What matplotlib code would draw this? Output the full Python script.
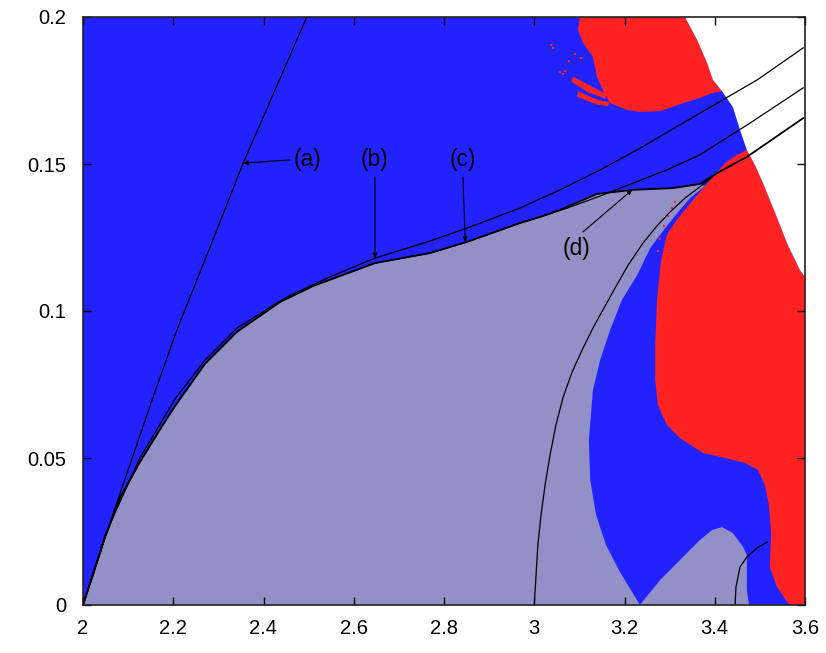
import matplotlib
matplotlib.use('Agg')
import matplotlib.pyplot as plt

plt.rcParams['font.family'] = ['Liberation Sans', 'DejaVu Sans']

# ---------------- axis values ----------------
x_ticks = [2.0, 2.2, 2.4, 2.6, 2.8, 3.0, 3.2, 3.4, 3.6]
x_tick_labels = ['2', '2.2', '2.4', '2.6', '2.8', '3', '3.2', '3.4', '3.6']
y_ticks = [0.0, 0.05, 0.1, 0.15, 0.2]
y_tick_labels = ['0', '0.05', '0.1', '0.15', '0.2']

# ---------------- curves ----------------
curve_a_x = [2.000, 2.049, 2.153, 2.208, 2.288, 2.355, 2.496]
curve_a_y = [0.0, 0.0231, 0.0697, 0.0935, 0.1242, 0.1503, 0.2]

curve_b_x = [2.000, 2.049, 2.126, 2.204, 2.270, 2.341, 2.452, 2.547, 2.647, 2.769,
             2.851, 2.968, 3.057, 3.146, 3.228, 3.367, 3.494, 3.596]
curve_b_y = [0.0, 0.0238, 0.0500, 0.0701, 0.0833, 0.0942, 0.1048, 0.1116, 0.1180, 0.1238,
             0.1282, 0.1350, 0.1412, 0.1480, 0.1548, 0.1673, 0.1786, 0.1895]

curve_d_x = [2.000, 2.022, 2.049, 2.082, 2.126, 2.171, 2.204, 2.270, 2.341, 2.437,
             2.510, 2.647, 2.769, 2.851, 2.968, 3.013, 3.057, 3.139, 3.217, 3.307,
             3.367, 3.405, 3.471, 3.596]
curve_d_y = [0.0, 0.0102, 0.0231, 0.0364, 0.0486, 0.0598, 0.0677, 0.0820, 0.0929, 0.1031,
             0.1085, 0.1163, 0.1197, 0.1235, 0.1299, 0.1320, 0.1344, 0.1398, 0.1412, 0.1418,
             0.1432, 0.1469, 0.1524, 0.1656]

# curve (c) follows (d) up to x = 3.013, then departs
curve_c_x = curve_d_x[:16] + [3.073, 3.146, 3.219, 3.294, 3.367, 3.478, 3.596]
curve_c_y = curve_d_y[:16] + [0.1350, 0.1391, 0.1435, 0.1480, 0.1531, 0.1639, 0.1759]

curve_e_x = [3.000, 3.004, 3.008, 3.015, 3.024, 3.035, 3.048, 3.064, 3.084, 3.106,
             3.130, 3.157, 3.179, 3.208, 3.241, 3.270, 3.301, 3.334, 3.367, 3.405]
curve_e_y = [0.0, 0.0102, 0.0204, 0.0306, 0.0408, 0.0510, 0.0612, 0.0707, 0.0793, 0.0867,
             0.0942, 0.1017, 0.1078, 0.1156, 0.1231, 0.1286, 0.1337, 0.1384, 0.1422, 0.1469]

curve_f_x = [3.445, 3.447, 3.456, 3.471, 3.494, 3.516]
curve_f_y = [0.0, 0.0061, 0.0129, 0.0163, 0.0194, 0.0214]

# ---------------- regions ----------------
# light region: bounded by curve (d) up to x=3.367, then this edge down to y=0
light_edge_x = [3.378, 3.345, 3.319, 3.290, 3.257, 3.228, 3.194, 3.168, 3.146, 3.130,
                3.121, 3.124, 3.137, 3.159, 3.190, 3.217, 3.234, 3.279, 3.323, 3.367,
                3.394, 3.416, 3.440, 3.463, 3.471, 3.471, 3.476]
light_edge_y = [0.1425, 0.1384, 0.1337, 0.1282, 0.1214, 0.1122, 0.1037, 0.0935, 0.0833, 0.0731,
                0.0561, 0.0425, 0.0306, 0.0204, 0.0112, 0.0044, 0.0, 0.0085, 0.0153, 0.0221,
                0.0255, 0.0265, 0.0245, 0.0197, 0.0170, 0.0051, 0.0]

red_top_x = [3.101, 3.097, 3.108, 3.130, 3.139, 3.152, 3.168, 3.206, 3.234, 3.279,
             3.330, 3.367, 3.396, 3.416, 3.396, 3.383, 3.361, 3.334]
red_top_y = [0.2, 0.1956, 0.1912, 0.1864, 0.1796, 0.1752, 0.1707, 0.1684, 0.1677, 0.1680,
             0.1707, 0.1725, 0.1742, 0.1748, 0.1786, 0.1844, 0.1922, 0.2]

# thin red streaks attached to the left edge of the upper red region
streak1_x = [3.086, 3.124, 3.160, 3.158, 3.119, 3.082]
streak1_y = [0.1797, 0.1766, 0.1738, 0.1722, 0.1744, 0.1781]
streak2_x = [3.097, 3.141, 3.166, 3.164, 3.139, 3.095]
streak2_y = [0.1747, 0.1718, 0.1710, 0.1697, 0.1702, 0.1729]
speck_x = [3.058, 3.063, 3.069, 3.076, 3.038, 3.041, 3.090, 3.104,
           3.279, 3.287, 3.296, 3.306, 3.274, 3.299, 3.312]
speck_y = [0.1812, 0.1806, 0.1816, 0.1850, 0.1905, 0.1895, 0.1874, 0.1860,
           0.1245, 0.1290, 0.1322, 0.1352, 0.1205, 0.1265, 0.1372]

white_edge_x = [3.334, 3.361, 3.383, 3.396, 3.416, 3.440, 3.456, 3.471, 3.489, 3.507,
                3.534, 3.562, 3.589, 3.600]
white_edge_y = [0.2, 0.1922, 0.1844, 0.1786, 0.1748, 0.1694, 0.1616, 0.1548, 0.1497, 0.1435,
                0.1333, 0.1224, 0.1139, 0.1116]

red_low_x = [3.471, 3.445, 3.423, 3.396, 3.367, 3.339, 3.316, 3.294, 3.281, 3.272,
             3.268, 3.268, 3.274, 3.294, 3.323, 3.374, 3.423, 3.467, 3.496, 3.511,
             3.520, 3.525, 3.522, 3.538, 3.562, 3.571, 3.600]
red_low_y = [0.1548, 0.1527, 0.1503, 0.1456, 0.1405, 0.1354, 0.1310, 0.1259, 0.1173, 0.1037,
             0.0878, 0.0765, 0.0680, 0.0612, 0.0568, 0.0517, 0.0500, 0.0483, 0.0459, 0.0408,
             0.0340, 0.0245, 0.0129, 0.0061, 0.0007, 0.0, 0.0]

# annotation labels: (text, text position, arrow start, arrow tip)
labels = ['(a)', '(b)', '(c)', '(d)']
label_xy = [(2.497, 0.1514), (2.645, 0.1514), (2.842, 0.1514), (3.093, 0.1214)]
arrow_start = [(2.459, 0.1514), (2.647, 0.1456), (2.842, 0.1456), (3.108, 0.1269)]
arrow_tip = [(2.355, 0.1503), (2.647, 0.1180), (2.847, 0.1235), (3.217, 0.1412)]

# ---------------- drawing ----------------
BLUE = '#2222ff'
LIGHT = '#9191c8'
RED = '#ff2222'

fig = plt.figure(figsize=(8.26, 6.53), dpi=100)
ax = fig.add_axes([83 / 826, 48 / 653, 722 / 826, 588 / 653])
ax.set_facecolor(BLUE)

i_end = curve_d_x.index(3.367) + 1
ax.fill(curve_d_x[:i_end] + light_edge_x, curve_d_y[:i_end] + light_edge_y,
        color=LIGHT, lw=0, zorder=1)
ax.fill(red_top_x, red_top_y, color=RED, lw=0, zorder=1)
ax.fill(streak1_x, streak1_y, color=RED, lw=0, zorder=1)
ax.fill(streak2_x, streak2_y, color=RED, lw=0, zorder=1)
ax.scatter(speck_x, speck_y, s=4, marker='s', color=RED, lw=0, zorder=1)
ax.fill(red_low_x + [3.6] + white_edge_x[::-1][1:8],
        red_low_y + [white_edge_y[-1]] + white_edge_y[::-1][1:8],
        color=RED, lw=0, zorder=1)
ax.fill(white_edge_x + [3.6], white_edge_y + [0.2], color='white', lw=0, zorder=1)

ax.plot(curve_a_x, curve_a_y, color='black', lw=0.9, zorder=3)
ax.plot(curve_b_x, curve_b_y, color='black', lw=0.9, zorder=3)
ax.plot(curve_c_x, curve_c_y, color='black', lw=0.9, zorder=3)
ax.plot(curve_d_x, curve_d_y, color='black', lw=1.3, zorder=3)
ax.plot(curve_e_x, curve_e_y, color='black', lw=0.9, zorder=3)
ax.plot(curve_f_x, curve_f_y, color='black', lw=0.9, zorder=3)

for lab, (tx, ty), (sx, sy), (hx, hy) in zip(labels, label_xy, arrow_start, arrow_tip):
    ax.text(tx, ty, lab, fontsize=16.5, ha='center', va='center', color='black', zorder=5)
    ax.annotate('', xy=(hx, hy), xytext=(sx, sy),
                arrowprops=dict(arrowstyle='-|>', lw=0.8, color='black',
                                mutation_scale=7, shrinkA=0, shrinkB=0),
                zorder=5)

ax.set_xlim(2.0, 3.6)
ax.set_ylim(0.0, 0.2)
ax.set_xticks(x_ticks)
ax.set_xticklabels(x_tick_labels)
ax.set_yticks(y_ticks)
ax.set_yticklabels(y_tick_labels)
ax.tick_params(direction='in', length=6, width=1, top=True, right=True,
               labelsize=14.5, pad=10, colors='black')
ax.tick_params(axis='y', pad=12)
for s in ax.spines.values():
    s.set_linewidth(1.2)
    s.set_color('#222222')
    s.set_zorder(10)

fig.savefig('out.png', dpi=100)
